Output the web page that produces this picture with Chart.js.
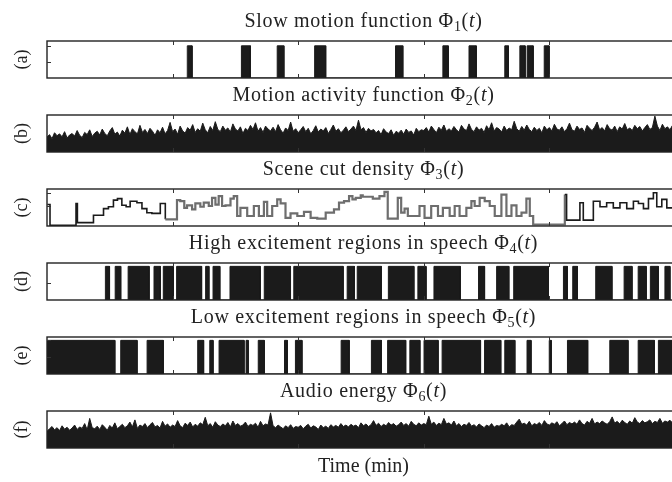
<!DOCTYPE html>
<html><head><meta charset="utf-8">
<script src="https://cdn.jsdelivr.net/npm/chart.js@4/dist/chart.umd.min.js"></script>
<style>
html,body{margin:0;padding:0;background:#fff;overflow:hidden;width:672px;height:482px;}
.p{position:absolute;left:0;}
canvas{display:block;}
</style></head><body>
<div class="p" style="top:11px"><canvas id="c0" width="700" height="74"></canvas></div>
<div class="p" style="top:85px"><canvas id="c1" width="700" height="74"></canvas></div>
<div class="p" style="top:159px"><canvas id="c2" width="700" height="74"></canvas></div>
<div class="p" style="top:233px"><canvas id="c3" width="700" height="74"></canvas></div>
<div class="p" style="top:307px"><canvas id="c4" width="700" height="74"></canvas></div>
<div class="p" style="top:381px"><canvas id="c5" width="700" height="101"></canvas></div>
<script>
// ---------- data ----------
const panelTitles = ['Slow motion function \u03A6','Motion activity function \u03A6','Scene cut density \u03A6',
  'High excitement regions in speech \u03A6','Low excitement regions in speech \u03A6','Audio energy \u03A6'];
const panelSubs = ['1','2','3','4','5','6'];
const panelLetters = ['(a)','(b)','(c)','(d)','(e)','(f)'];
const xAxisTitle = 'Time (min)';
const timeTicks = [0,10,20,30,40,50];
const timeMax = 50.4;
const sampleStep = 0.2;

// (a) slow-motion intervals [start, end] in minutes
const slowMotion = [[11.17,11.55],[15.48,16.20],[18.33,18.86],[21.31,22.19],[27.75,28.33],[31.52,31.95],
  [33.60,34.18],[36.45,36.74],[37.65,38.07],[38.23,38.71],[39.59,39.98]];

// (b) motion activity, one value every sampleStep minutes
const motionActivity = [
0.40,0.47,0.36,0.52,0.44,0.49,0.41,0.55,0.38,0.46,
0.50,0.43,0.58,0.45,0.39,0.53,0.47,0.60,0.42,0.51,
0.56,0.46,0.62,0.50,0.44,0.57,0.66,0.48,0.54,0.43,
0.59,0.51,0.68,0.47,0.63,0.55,0.49,0.72,0.53,0.61,
0.50,0.64,0.56,0.45,0.60,0.52,0.67,0.49,0.58,0.80,
0.55,0.62,0.48,0.70,0.57,0.51,0.66,0.59,0.74,0.53,
0.63,0.56,0.78,0.60,0.52,0.69,0.58,0.82,0.61,0.55,
0.70,0.59,0.65,0.54,0.76,0.62,0.57,0.68,0.50,0.64,
0.58,0.72,0.61,0.79,0.56,0.66,0.53,0.70,0.62,0.57,
0.67,0.55,0.74,0.60,0.51,0.65,0.58,0.81,0.56,0.63,
0.52,0.60,0.69,0.55,0.64,0.49,0.58,0.71,0.54,0.62,
0.57,0.66,0.50,0.61,0.73,0.56,0.63,0.52,0.59,0.68,
0.55,0.62,0.70,0.58,0.86,0.60,0.66,0.53,0.64,0.57,
0.61,0.52,0.58,0.47,0.63,0.54,0.50,0.60,0.45,0.56,
0.51,0.59,0.48,0.62,0.53,0.57,0.46,0.64,0.55,0.60,
0.58,0.66,0.54,0.70,0.61,0.52,0.67,0.59,0.73,0.56,
0.63,0.57,0.69,0.60,0.54,0.72,0.62,0.58,0.76,0.61,
0.55,0.68,0.59,0.64,0.53,0.71,0.60,0.79,0.57,0.66,
0.62,0.54,0.70,0.58,0.65,0.60,0.83,0.63,0.56,0.69,
0.59,0.73,0.61,0.55,0.67,0.58,0.64,0.52,0.70,0.60,
0.66,0.57,0.75,0.62,0.59,0.68,0.55,0.63,0.78,0.60,
0.56,0.70,0.61,0.65,0.53,0.72,0.64,0.58,0.67,0.81,
0.60,0.66,0.57,0.74,0.63,0.59,0.70,0.55,0.68,0.62,
0.77,0.60,0.65,0.58,0.72,0.63,0.69,0.57,0.66,0.74,
0.61,0.66,0.97,0.70,0.58,0.75,0.63,0.68,0.60,0.72,
0.65,0.62];

// (c) scene cut density: step start times and levels
const sceneTimes = [0.03,0.24,2.31,2.42,3.70,4.50,4.89,5.29,5.61,5.96,6.30,6.62,7.16,7.56,7.95,8.35,9.02,9.42,
10.35,10.61,10.93,11.15,11.55,11.81,12.21,12.48,12.88,13.14,13.41,13.67,13.94,14.21,14.61,14.87,15.14,15.40,
15.94,16.47,16.87,17.27,17.53,17.93,18.33,18.60,18.99,19.39,19.93,20.46,20.99,21.52,22.19,22.85,23.25,23.65,
24.05,24.32,24.58,24.98,25.14,25.94,26.47,26.87,27.13,27.93,28.20,28.47,28.73,29.66,30.06,30.59,31.13,31.52,
32.06,32.46,32.85,33.39,33.79,34.05,34.45,34.85,35.25,35.65,36.18,36.58,36.98,37.38,37.78,38.17,38.44,38.71,
41.23,41.37,42.43,42.70,43.50,44.03,44.56,45.09,45.62,46.16,46.69,47.09,47.49,47.89,48.28,48.55,48.95,49.35,
49.88,50.40];
const sceneLevels = [0.58,0.02,0.61,0.09,0.29,0.47,0.52,0.70,0.74,0.56,0.52,0.67,0.63,0.47,0.36,0.34,0.61,0.18,
0.70,0.67,0.49,0.56,0.45,0.61,0.52,0.63,0.54,0.76,0.58,0.81,0.54,0.56,0.74,0.81,0.27,0.49,
0.27,0.54,0.27,0.65,0.27,0.54,0.72,0.61,0.22,0.34,0.27,0.38,0.22,0.20,0.36,0.45,0.63,0.67,
0.81,0.72,0.76,0.83,0.79,0.74,0.81,0.92,0.20,0.76,0.36,0.47,0.27,0.54,0.22,0.54,0.27,0.49,
0.27,0.54,0.27,0.49,0.67,0.54,0.76,0.67,0.54,0.27,0.85,0.27,0.56,0.27,0.36,0.74,0.27,0.04,
0.85,0.16,0.63,0.16,0.67,0.52,0.63,0.49,0.63,0.47,0.67,0.61,0.47,0.74,0.90,0.52,0.72,0.49,
0.60,0.60];

// (d) high excitement intervals
const highExcitement = [[4.65,4.98],[5.43,5.87],[6.46,8.13],[8.52,9.03],[9.26,10.06],[10.32,12.31],[12.63,12.89],
[13.22,13.76],[14.57,16.98],[17.30,19.39],[19.65,23.58],[23.90,24.48],[24.70,26.63],[27.18,29.21],[29.53,30.18],
[30.81,32.91],[34.36,34.84],[35.80,36.77],[37.16,39.93],[41.12,41.44],[41.86,42.24],[43.69,44.98],[45.95,46.58],
[47.07,47.71],[48.04,48.68],[49.20,49.60]];

// (e) low excitement intervals
const lowExcitement = [[0,5.40],[5.87,7.17],[7.97,9.26],[12.00,12.47],[12.96,13.22],[13.70,15.69],[15.85,16.02],
[16.82,17.30],[18.91,19.14],[19.78,20.30],[23.42,24.06],[25.83,26.63],[27.12,28.56],[28.89,29.69],[30.02,31.14],
[31.46,34.52],[34.84,36.13],[36.45,37.25],[38.22,38.54],[39.99,40.15],[41.44,43.05],[44.81,46.26],[47.07,48.36],
[48.68,50.40]];

// (f) audio energy, one value every sampleStep minutes
const audioEnergy = [
0.45,0.52,0.58,0.49,0.55,0.47,0.60,0.51,0.56,0.48,
0.54,0.62,0.50,0.57,0.53,0.66,0.49,0.80,0.55,0.52,
0.59,0.50,0.63,0.56,0.48,0.61,0.54,0.68,0.52,0.58,
0.64,0.55,0.60,0.70,0.57,0.76,0.53,0.62,0.58,0.66,
0.55,0.63,0.69,0.57,0.61,0.54,0.72,0.59,0.65,0.56,
0.62,0.58,0.74,0.60,0.55,0.67,0.61,0.70,0.57,0.64,
0.59,0.68,0.63,0.83,0.60,0.66,0.56,0.71,0.62,0.58,
0.65,0.60,0.69,0.57,0.73,0.61,0.66,0.59,0.62,0.70,
0.58,0.64,0.61,0.67,0.56,0.72,0.60,0.65,0.62,0.95,
0.60,0.55,0.62,0.57,0.52,0.60,0.55,0.63,0.53,0.58,
0.56,0.61,0.52,0.59,0.64,0.54,0.60,0.57,0.50,0.62,
0.55,0.59,0.53,0.63,0.57,0.61,0.56,0.66,0.58,0.62,
0.57,0.64,0.59,0.62,0.55,0.68,0.60,0.65,0.58,0.63,
0.74,0.61,0.67,0.58,0.64,0.60,0.69,0.62,0.66,0.59,
0.63,0.70,0.61,0.66,0.59,0.72,0.64,0.60,0.68,0.62,
0.66,0.63,0.86,0.64,0.70,0.61,0.67,0.63,0.80,0.65,
0.68,0.62,0.73,0.60,0.66,0.58,0.64,0.61,0.69,0.59,
0.63,0.57,0.65,0.60,0.55,0.62,0.58,0.66,0.56,0.61,
0.59,0.64,0.60,0.68,0.57,0.63,0.61,0.70,0.78,0.64,
0.67,0.62,0.72,0.60,0.66,0.63,0.69,0.61,0.74,0.65,
0.62,0.68,0.64,0.71,0.60,0.66,0.73,0.63,0.69,0.65,
0.70,0.64,0.76,0.66,0.62,0.72,0.67,0.80,0.65,0.70,
0.66,0.73,0.68,0.64,0.71,0.84,0.67,0.72,0.65,0.75,
0.69,0.64,0.73,0.67,0.82,0.70,0.66,0.74,0.68,0.71,
0.76,0.66,0.72,0.69,0.80,0.67,0.73,0.70,0.75,0.68,
0.71,0.66];

// ---------- helpers ----------
const INK = '#1b1b1b';
const SERIF = "'Liberation Serif', 'DejaVu Serif', serif";
const TITLE_SIZE = 20;

function intervalPoints(iv){
  const pts=[];
  iv.forEach(([s,e])=>{pts.push({x:s,y:0},{x:s,y:1},{x:e,y:1},{x:e,y:0});});
  return pts;
}
function sampledPoints(vals){ return vals.map((v,i)=>({x:+(i*sampleStep).toFixed(2),y:v})); }
function stepPoints(ts,vs){ return ts.map((t,i)=>({x:t,y:vs[i]})); }

const panelTitle = {
  id:'panelTitle',
  afterDraw(chart,args,o){
    if(!o || !o.main) return;
    const ctx=chart.ctx, a=chart.chartArea, size=o.size;
    const parts=[{t:o.main,f:size+'px '+SERIF,dy:0},{t:o.sub,f:Math.round(size*0.7)+'px '+SERIF,dy:size*0.2},
      {t:'(',f:size+'px '+SERIF,dy:0},{t:'t',f:'italic '+size+'px '+SERIF,dy:0},{t:')',f:size+'px '+SERIF,dy:0}];
    ctx.save();
    ctx.letterSpacing = o.spacing;
    let w=0; parts.forEach(p=>{ctx.font=p.f; p.w=ctx.measureText(p.t).width; w+=p.w;});
    let x=(a.left+a.right)/2-w/2; const y=a.top+o.offset;
    ctx.fillStyle='#222'; ctx.textAlign='left'; ctx.textBaseline='alphabetic';
    parts.forEach(p=>{ctx.font=p.f; ctx.fillText(p.t,x,y+p.dy); x+=p.w;});
    ctx.restore();
  }
};
const framePlugin = {
  id:'frame',
  afterDatasetsDraw(chart,args,o){
    const {ctx,chartArea:a,scales:{x,y}}=chart;
    ctx.save(); ctx.strokeStyle='#222'; ctx.lineWidth=1.4;
    ctx.strokeRect(a.left,a.top,a.right-a.left,a.bottom-a.top);
    ctx.lineWidth=1; ctx.strokeStyle='#333';
    timeTicks.forEach(v=>{const px=Math.round(x.getPixelForValue(v))+0.5; if(px<a.left+2||px>a.right-2) return;
      ctx.beginPath(); ctx.moveTo(px,a.bottom); ctx.lineTo(px,a.bottom-4); ctx.moveTo(px,a.top); ctx.lineTo(px,a.top+4); ctx.stroke();});
    (o.yTicks||[]).forEach(v=>{const py=Math.round(y.getPixelForValue(v))+0.5;
      ctx.beginPath(); ctx.moveTo(a.left,py); ctx.lineTo(a.left+4,py); ctx.stroke();});
    ctx.restore();
  }
};
Chart.register(panelTitle, framePlugin);

function makePanel(idx, dataset, ymax, yTicks, isLast){
  new Chart(document.getElementById('c'+idx), {
    type:'line',
    data:{datasets:[dataset]},
    options:{
      responsive:false, animation:false, devicePixelRatio:1,
      layout:{padding:{top:30,bottom:0,left:0,right:20},autoPadding:false},
      elements:{point:{radius:0}},
      plugins:{legend:{display:false},tooltip:{enabled:false},
        panelTitle:{main:panelTitles[idx],sub:panelSubs[idx],size:TITLE_SIZE,offset:-14,spacing:'0.7px'},
        frame:{yTicks:yTicks}},
      scales:{
        x:{type:'linear',min:0,max:timeMax,display:true,
           ticks:{display:false},grid:{display:false},border:{display:false},
           title:{display:!!isLast,text:xAxisTitle,color:'#222',font:{family:SERIF,size:TITLE_SIZE},padding:{top:0,bottom:3}},
           afterFit(s){ s.height = isLast ? 34 : 7; }},
        y:{min:0,max:ymax,display:true,ticks:{display:false},grid:{display:false},border:{display:false},
           title:{display:true,text:panelLetters[idx],color:'#222',font:{family:SERIF,size:18},padding:{top:11}},
           afterFit(s){ s.width=47; }}
      }
    }
  });
}

const fillSet = pts => ({data:pts,fill:'origin',backgroundColor:INK,borderColor:INK,borderWidth:1,pointRadius:0,tension:0});

makePanel(0, fillSet(intervalPoints(slowMotion)), 1.15, [0.5,1]);
makePanel(1, fillSet(sampledPoints(motionActivity)), 1, []);
makePanel(2, {data:stepPoints(sceneTimes,sceneLevels),stepped:'before',fill:false,borderColor:'#1b1b1b',borderWidth:1.6,pointRadius:0,
  segment:{borderColor:c=>(c.p0.parsed.x>=9.4&&c.p0.parsed.x<41.2)?'#6e6e6e':'#1b1b1b',
           borderWidth:c=>(c.p0.parsed.x>=9.4&&c.p0.parsed.x<41.2)?2.2:1.6}}, 1, [0.55,0.9]);
makePanel(3, fillSet(intervalPoints(highExcitement)), 1.1, [0.5]);
makePanel(4, fillSet(intervalPoints(lowExcitement)), 1.1, [0.5,1]);
makePanel(5, fillSet(sampledPoints(audioEnergy)), 1, [], true);
</script>
</body></html>
